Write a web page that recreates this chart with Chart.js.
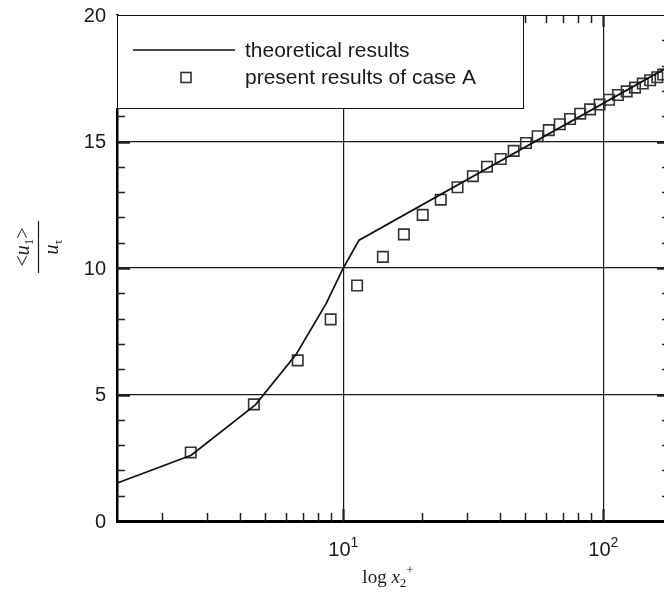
<!DOCTYPE html>
<html>
<head>
<meta charset="utf-8">
<style>
  html, body { margin: 0; padding: 0; overflow: hidden; background: #fff; }
  canvas { display: block; }
</style>
<script src="https://cdn.jsdelivr.net/npm/chart.js@4.4.1/dist/chart.umd.min.js"></script>
</head>
<body>
<canvas id="c" width="680" height="595"></canvas>
<script>
// Theoretical mean velocity profile: linear sublayer, then the log law
const theoryX = [1, 2.6, 4.6, 6.6, 8.6, 10, 11.5, 180];
const theoryY = [1, 2.6, 4.6, 6.6, 8.6, 10, 11.1, 17.98];

// Computed mean velocity, case A
const caseAX = [2.59, 4.53, 6.68, 8.94, 11.3, 14.2, 17.1, 20.2, 23.7, 27.5,
                31.5, 35.7, 40.3, 45.2, 50.4, 55.9, 61.7, 68.0, 74.5, 81.5,
                88.9, 96.8, 105.2, 113.9, 123, 132.4, 141.8, 151.4, 161.3, 170];
const caseAY = [2.71, 4.61, 6.35, 7.97, 9.31, 10.44, 11.33, 12.10, 12.70, 13.19,
                13.63, 14.00, 14.31, 14.63, 14.94, 15.21, 15.45, 15.68, 15.89, 16.10,
                16.27, 16.46, 16.65, 16.84, 16.98, 17.13, 17.29, 17.42, 17.54, 17.65];

const seriesLabels = ['theoretical results', 'present results of case A'];

// Axis ticks
const xMajorTicks = [10, 100];
const xMajorExponents = ['1', '2'];
const xMinorTicks = [2, 3, 4, 5, 6, 7, 8, 9, 20, 30, 40, 50, 60, 70, 80, 90];
const yLabelTicks = [0, 5, 10, 15, 20];
const yGridTicks = [5, 10, 15];
const yMinorTicks = [1, 2, 3, 4, 6, 7, 8, 9, 11, 12, 13, 14, 16, 17, 18, 19];

const SANS = '"Liberation Sans", Arial, Helvetica, sans-serif';
const SERIF = '"Liberation Serif", "Times New Roman", serif';

function drawRun(ctx, parts, x, y, align) {
  // parts: [{t, font, dy}] drawn left to right on a shared baseline
  let total = 0;
  parts.forEach(p => { ctx.font = p.font; p.w = ctx.measureText(p.t).width; total += p.w; });
  let cx = align === 'center' ? x - total / 2 : (align === 'right' ? x - total : x);
  ctx.textAlign = 'left';
  ctx.textBaseline = 'alphabetic';
  parts.forEach(p => { ctx.font = p.font; ctx.fillText(p.t, cx, y + (p.dy || 0)); cx += p.w; });
}

const paperFrame = {
  id: 'paperFrame',
  afterDraw(chart) {
    const { ctx, chartArea: a, scales: { x, y } } = chart;
    ctx.save();

    // thin top and right frame
    ctx.strokeStyle = '#111';
    ctx.lineWidth = 1;
    ctx.beginPath();
    ctx.moveTo(a.left, a.top + 0.5); ctx.lineTo(a.right, a.top + 0.5);
    ctx.moveTo(a.right - 0.5, a.top); ctx.lineTo(a.right - 0.5, a.bottom);
    ctx.stroke();

    // inward minor ticks on the x axis (bottom and top)
    ctx.strokeStyle = '#222';
    ctx.lineWidth = 1.5;
    ctx.beginPath();
    xMinorTicks.forEach(v => {
      const px = Math.round(x.getPixelForValue(v)) + 0.5;
      if (px <= a.left || px >= a.right) return;
      ctx.moveTo(px, a.bottom); ctx.lineTo(px, a.bottom - 8);
      ctx.moveTo(px, a.top); ctx.lineTo(px, a.top + 8);
    });
    ctx.stroke();
    // heavier major ticks at the decades
    ctx.lineWidth = 2.2;
    ctx.beginPath();
    xMajorTicks.forEach(v => {
      const px = Math.round(x.getPixelForValue(v)) + 0.5;
      ctx.moveTo(px, a.bottom); ctx.lineTo(px, a.bottom - 12);
      ctx.moveTo(px, a.top); ctx.lineTo(px, a.top + 12);
    });
    ctx.stroke();

    // inward ticks on the y axis
    ctx.lineWidth = 1.5;
    ctx.beginPath();
    yMinorTicks.forEach(v => {
      const py = Math.round(y.getPixelForValue(v)) + 0.5;
      ctx.moveTo(a.left, py); ctx.lineTo(a.left + 8, py);
      ctx.moveTo(a.right, py); ctx.lineTo(a.right - 8, py);
    });
    ctx.stroke();
    ctx.lineWidth = 2.4;
    ctx.beginPath();
    yGridTicks.forEach(v => {
      const py = Math.round(y.getPixelForValue(v)) + 0.5;
      ctx.moveTo(a.left, py); ctx.lineTo(a.left + 13, py);
      ctx.moveTo(a.right, py); ctx.lineTo(a.right - 13, py);
    });
    ctx.stroke();

    // y tick labels
    ctx.fillStyle = '#1a1a1a';
    ctx.font = '20px ' + SANS;
    ctx.textAlign = 'right';
    ctx.textBaseline = 'middle';
    yLabelTicks.forEach(v => ctx.fillText(String(v), a.left - 11, y.getPixelForValue(v) + 1));

    // x tick labels: 10 with exponent
    xMajorTicks.forEach((v, i) => {
      const px = x.getPixelForValue(v);
      drawRun(ctx, [
        { t: '10', font: '20px ' + SANS },
        { t: xMajorExponents[i], font: '14px ' + SANS, dy: -9 }
      ], px, a.bottom + 35, 'center');
    });

    // x axis title: log x2+
    drawRun(ctx, [
      { t: 'log ', font: '19px ' + SERIF },
      { t: 'x', font: 'italic 19px ' + SERIF },
      { t: '2', font: '13px ' + SERIF, dy: 4 },
      { t: '+', font: '13px ' + SERIF, dy: -9 }
    ], 388, a.bottom + 62, 'center');

    // y axis title: <u1> over u_tau, rotated
    ctx.save();
    ctx.translate(38, 247);
    ctx.rotate(-Math.PI / 2);
    drawRun(ctx, [
      { t: '<', font: '20px ' + SERIF },
      { t: 'u', font: 'italic 20px ' + SERIF },
      { t: '1', font: '13px ' + SERIF, dy: 4 },
      { t: '>', font: '20px ' + SERIF }
    ], 0, -9, 'center');
    ctx.strokeStyle = '#1a1a1a';
    ctx.lineWidth = 1.2;
    ctx.beginPath();
    ctx.moveTo(-26, 0.5); ctx.lineTo(26, 0.5);
    ctx.stroke();
    drawRun(ctx, [
      { t: 'u', font: 'italic 20px ' + SERIF },
      { t: '\u03C4', font: '12px ' + SERIF, dy: 4 }
    ], 0, 20, 'center');
    ctx.restore();

    // legend box in the upper left corner of the plot
    const lx0 = a.left, ly0 = a.top, lx1 = 523, ly1 = 108;
    ctx.fillStyle = '#fff';
    ctx.fillRect(lx0 - 2, ly0, lx1 - lx0 + 2, ly1 - ly0);
    ctx.strokeStyle = '#111';
    ctx.lineWidth = 1;
    ctx.strokeRect(lx0 + 0.5, ly0 + 0.5, lx1 - lx0, ly1 - ly0);

    const ds = chart.data.datasets;
    ctx.strokeStyle = ds[0].borderColor;
    ctx.lineWidth = ds[0].borderWidth;
    ctx.beginPath();
    ctx.moveTo(133, 50); ctx.lineTo(235, 50);
    ctx.stroke();

    ctx.strokeStyle = ds[1].borderColor;
    ctx.lineWidth = ds[1].borderWidth;
    ctx.strokeRect(186 - 5, 77.5 - 5, 10, 10);

    ctx.fillStyle = '#1a1a1a';
    ctx.font = '21px ' + SANS;
    ctx.textAlign = 'left';
    ctx.textBaseline = 'middle';
    ctx.fillText(ds[0].label, 245, 51);
    ctx.fillText(ds[1].label, 245, 78);

    ctx.restore();
  }
};

new Chart(document.getElementById('c'), {
  type: 'scatter',
  data: {
    datasets: [
      {
        label: seriesLabels[0],
        data: theoryX.map((v, i) => ({ x: v, y: theoryY[i] })),
        showLine: true,
        borderColor: '#111',
        borderWidth: 1.7,
        pointRadius: 0,
        fill: false,
        tension: 0
      },
      {
        label: seriesLabels[1],
        data: caseAX.map((v, i) => ({ x: v, y: caseAY[i] })),
        showLine: false,
        pointStyle: 'rect',
        pointRadius: 7.4,
        borderColor: '#333',
        borderWidth: 1.6,
        backgroundColor: 'rgba(0,0,0,0)'
      }
    ]
  },
  options: {
    responsive: false,
    animation: false,
    devicePixelRatio: 1,
    layout: { padding: { left: 117, top: 15, right: 10, bottom: 74 } },
    plugins: { legend: { display: false }, tooltip: { enabled: false } },
    scales: {
      x: {
        type: 'logarithmic',
        min: 1.348,
        max: 180.5,
        afterBuildTicks: s => { s.ticks = xMajorTicks.map(v => ({ value: v, major: true })); },
        ticks: { display: false },
        grid: { drawTicks: false, color: '#1a1a1a', lineWidth: 1.2 },
        border: { display: true, color: '#000', width: 3 }
      },
      y: {
        min: 0,
        max: 20,
        afterBuildTicks: s => { s.ticks = yGridTicks.map(v => ({ value: v })); },
        ticks: { display: false },
        grid: { drawTicks: false, color: '#1a1a1a', lineWidth: 1.2 },
        border: { display: true, color: '#000', width: 2.5 }
      }
    }
  },
  plugins: [paperFrame]
});
</script>
</body>
</html>
